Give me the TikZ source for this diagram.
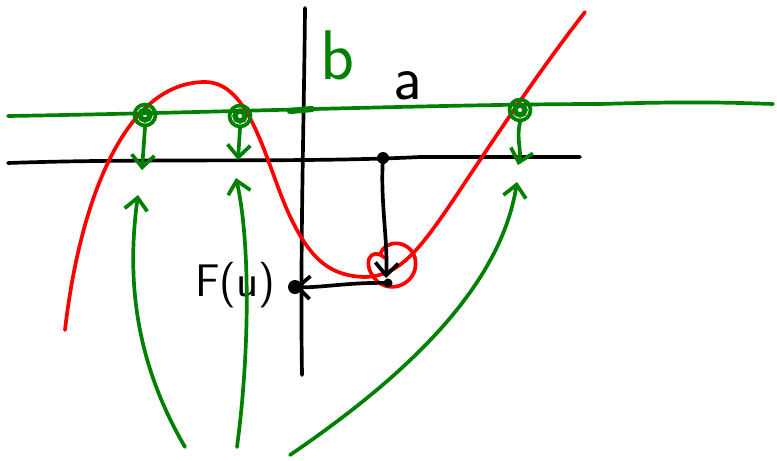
\documentclass[tikz,border=0pt]{standalone}
\usetikzlibrary{arrows.meta}
\definecolor{pgreen}{RGB}{0,128,0}
\definecolor{pred}{RGB}{255,0,0}
\tikzset{
  ink/.style={line width=2.1pt,line cap=round,line join=round},
  gink/.style={ink,draw=pgreen},
  rink/.style={ink,draw=pred},
  bink/.style={ink,draw=black},
  barb/.style={-{Straight Barb[length=7pt,width=13pt,line width=2.1pt]}},
  lbl/.style={inner sep=0pt,font=\sffamily}
}
\begin{document}
\begin{tikzpicture}[x=0.02cm,y=-0.02cm]
\useasboundingbox (0,0) rectangle (777,460);
% axes
\draw[bink] (305,8) .. controls (304,120) and (300,250) .. (302,375);
\draw[bink] (8,163) .. controls (150,158) and (300,163) .. (420,157) -- (580,157);
% green line
\draw[gink] (8,116) .. controls (200,113) and (450,104) .. (600,104) .. controls (700,101) and (740,103) .. (773,104);
\draw[gink,line width=3.5pt] (290,111) -- (312,109);
% red curve
\draw[rink] (65,330) .. controls (80,200) and (125,82) .. (205,82)
  .. controls (250,82) and (265,160) .. (288,212)
  .. controls (310,260) and (330,276) .. (365,277)
  .. controls (400,276) and (420,250) .. (460,190)
  .. controls (500,130) and (540,70) .. (585,12);
% red scribble loop
\draw[rink] (385,258) .. controls (370,245) and (360,265) .. (378,282)
  .. controls (395,295) and (420,280) .. (415,258)
  .. controls (410,240) and (385,238) .. (380,255);
% black projections
\coordinate (top) at (383,158);
\coordinate (bot) at (388,283);
\coordinate (fu) at (295,287);
\fill (top) circle (6);
\fill (bot) circle (4.5);
\fill (fu) circle (7);
\draw[bink,barb] (top) .. controls (380,200) and (388,240) .. (386,278);
\draw[bink,barb] (bot) .. controls (350,282) and (320,288) .. (fu);
\node[lbl,font=\sffamily\fontsize{26}{26}\selectfont] (flabel) at (235,285) {F(u)};
% labels
\node[lbl,text=pgreen,font=\sffamily\fontsize{40}{40}\selectfont] (blabel) at (338,55) {b};
\node[lbl,font=\sffamily\fontsize{36}{36}\selectfont] (alabel) at (408,86) {a};
% green circles
\foreach \n/\x/\y in {c1/145/115, c2/240/116, c3/520/110}{
  \node[draw=pgreen,line width=2.1pt,circle,minimum size=0.42cm,inner sep=0pt] (\n) at (\x,\y) {};
  \draw[pgreen,line width=3pt] (\x,\y) circle (5);
}
\coordinate (d1) at (142,170);
\coordinate (d2) at (238,160);
\coordinate (d3) at (518,165);
\draw[gink,barb] (c1.south) -- (d1);
\draw[gink,barb] (c2.south) -- (d2);
\draw[gink,barb] (c3.south) .. controls (516,140) and (522,150) .. (d3);
% green upward curves
\coordinate (s1) at (185,447);
\coordinate (s2) at (237,447);
\coordinate (s3) at (290,455);
\coordinate (e1) at (138,195);
\coordinate (e2) at (236,178);
\coordinate (e3) at (517,182);
\draw[gink,barb] (s1) .. controls (140,370) and (125,290) .. (e1);
\draw[gink,barb] (s2) .. controls (250,350) and (250,240) .. (e2);
\draw[gink,barb] (s3) .. controls (400,380) and (500,290) .. (e3);
\end{tikzpicture}
\end{document}
